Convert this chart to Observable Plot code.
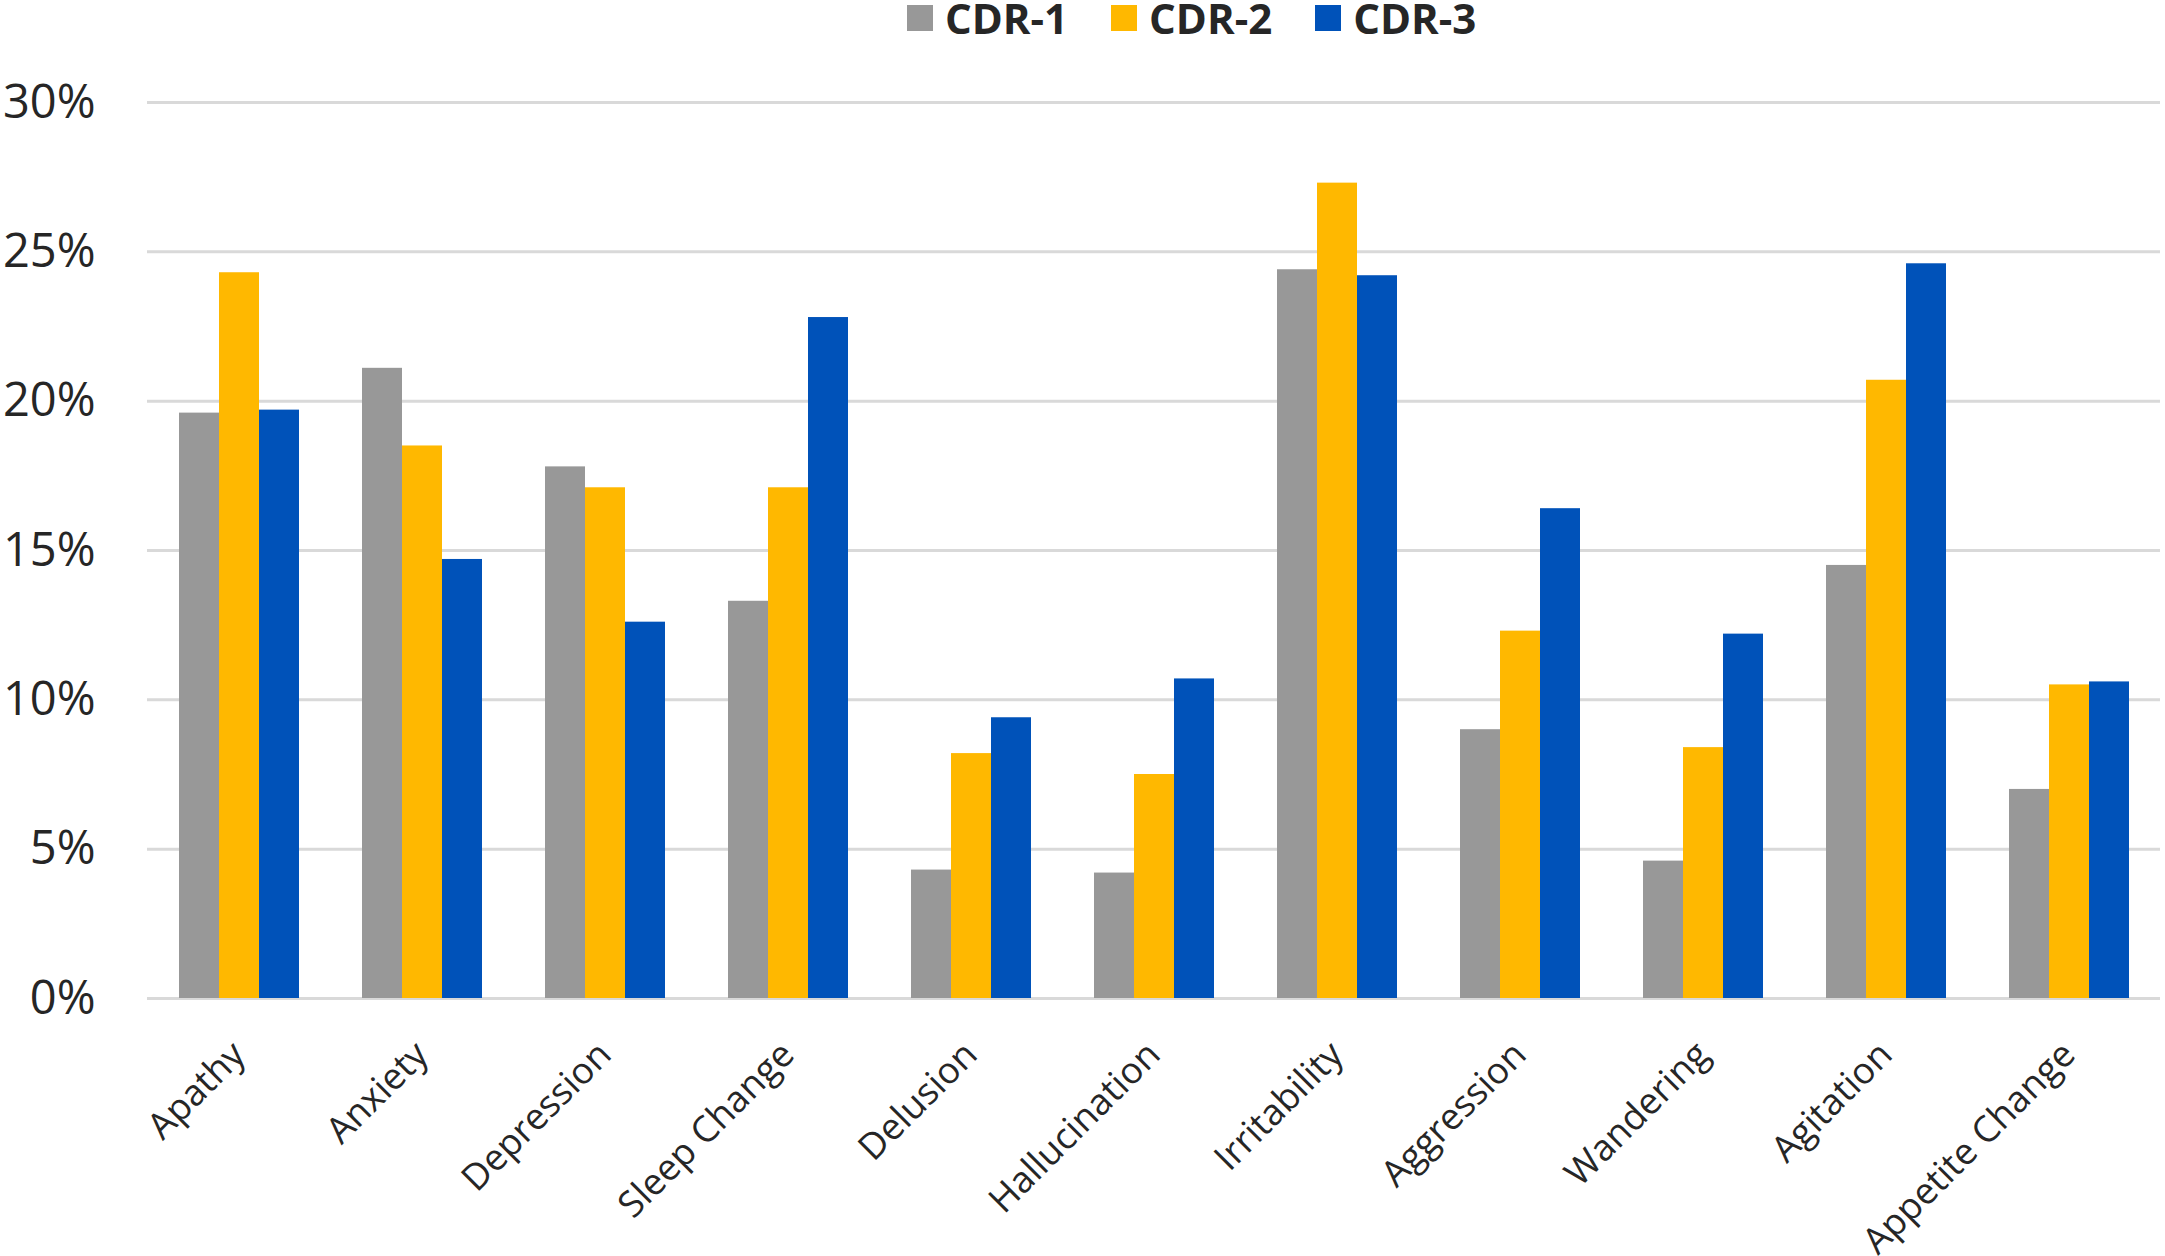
<!DOCTYPE html>
<html>
<head>
<meta charset="utf-8">
<script src="https://cdn.jsdelivr.net/npm/d3@7"></script>
<script src="https://cdn.jsdelivr.net/npm/@observablehq/plot@0.6"></script>
<style>
  html, body { margin: 0; padding: 0; background: #fff; }
  #wrap { position: relative; width: 2165px; height: 1256px; overflow: hidden; font-family: "Open Sans", sans-serif; }
  #legend { position: absolute; top: -11px; left: 907px; display: flex; justify-content: flex-start; font-weight: 700; font-size: 42px; color: #262626; white-space: nowrap; }
  .item { display: flex; align-items: center; margin-right: 43px; }
  .sw { width: 26px; height: 26px; margin-right: 12px; }
</style>
</head>
<body>
<div id="wrap">
  <div id="chart"></div>
  <div id="legend"></div>
</div>
<script>
const categories = ["Apathy", "Anxiety", "Depression", "Sleep Change", "Delusion", "Hallucination", "Irritability", "Aggression", "Wandering", "Agitation", "Appetite Change"];
const seriesNames = ["CDR-1", "CDR-2", "CDR-3"];
const seriesColors = ["#989898", "#FFB800", "#0052B9"];
const cdr1 = [19.6, 21.1, 17.8, 13.3, 4.3, 4.2, 24.4, 9.0, 4.6, 14.5, 7.0];
const cdr2 = [24.3, 18.5, 17.1, 17.1, 8.2, 7.5, 27.3, 12.3, 8.4, 20.7, 10.5];
const cdr3 = [19.7, 14.7, 12.6, 22.8, 9.4, 10.7, 24.2, 16.4, 12.2, 24.6, 10.6];
const yTicks = [0, 5, 10, 15, 20, 25, 30];

const seriesValues = [cdr1, cdr2, cdr3];
const data = [];
categories.forEach((c, i) => {
  seriesNames.forEach((s, j) => data.push({category: c, series: s, value: seriesValues[j][i]}));
});

const chart = Plot.plot({
  width: 2165,
  height: 1256,
  marginLeft: 142,
  marginRight: 0,
  marginTop: 102,
  marginBottom: 258,
  style: {fontFamily: "Open Sans, sans-serif", background: "#fff"},
  fx: {domain: categories, padding: 0, label: null},
  x: {domain: seriesNames, axis: null, paddingInner: 0, paddingOuter: 0.745},
  y: {domain: [0, 30], axis: null},
  color: {domain: seriesNames, range: seriesColors},
  marks: [
    Plot.ruleY(yTicks, {y: d => d, stroke: "#d9d9d9", strokeWidth: 3}),
    Plot.barY(data, {fx: "category", x: "series", y: "value", fill: "series"}),
    Plot.axisY({ticks: yTicks, tickSize: 0, tickPadding: 52, tickFormat: d => d + "%", fontSize: 47, fill: "#262626", label: null}),
    Plot.axisFx({tickSize: 0, tickPadding: 50, tickRotate: -45, fontSize: 36.5, fill: "#262626", label: null, anchor: "bottom"})
  ]
});
document.getElementById("chart").appendChild(chart);

const legend = document.getElementById("legend");
seriesNames.forEach((s, i) => {
  const item = document.createElement("div");
  item.className = "item";
  const sw = document.createElement("div");
  sw.className = "sw";
  sw.style.background = seriesColors[i];
  const t = document.createElement("span");
  t.textContent = s;
  item.appendChild(sw);
  item.appendChild(t);
  legend.appendChild(item);
});
</script>
</body>
</html>
